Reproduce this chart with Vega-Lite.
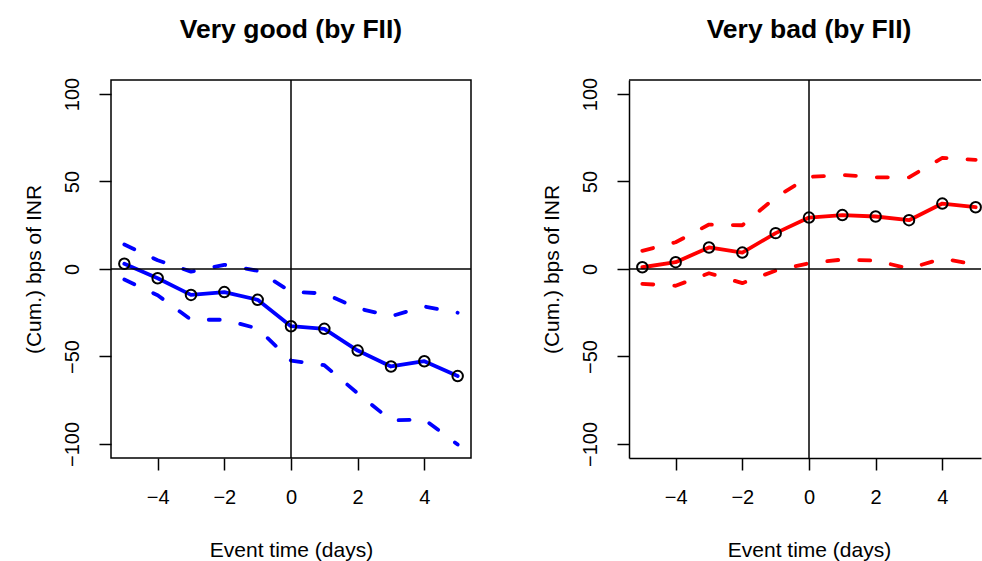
{
  "$schema": "https://vega.github.io/schema/vega-lite/v6.json",
  "background": "white",
  "padding": {"left": 22, "top": 16, "right": 0, "bottom": 0},
  "config": {
    "font": "Liberation Sans",
    "view": {"stroke": "black", "strokeWidth": 1.5},
    "axis": {
      "grid": false, "domain": false, "tickColor": "black", "tickWidth": 1.5, "tickSize": 12,
      "labelColor": "black", "labelFontSize": 20, "labelFont": "Liberation Sans", "labelFlush": false, "labelOverlap": false,
      "titleColor": "black", "titleFontSize": 21, "titleFontWeight": "normal", "titleFont": "Liberation Sans"
    },
    "title": {"font": "Liberation Sans", "fontSize": 26.5, "fontWeight": "bold", "color": "black", "anchor": "middle", "frame": "group", "offset": 34, "baseline": "alphabetic"}
  },
  "datasets": {
    "good": [
      {"t": -5, "s": "est", "v": 3}, {"t": -4, "s": "est", "v": -5.3}, {"t": -3, "s": "est", "v": -14.8}, {"t": -2, "s": "est", "v": -13.2}, {"t": -1, "s": "est", "v": -17.6}, {"t": 0, "s": "est", "v": -32.7}, {"t": 1, "s": "est", "v": -34.2}, {"t": 2, "s": "est", "v": -46.6}, {"t": 3, "s": "est", "v": -55.7}, {"t": 4, "s": "est", "v": -52.7}, {"t": 5, "s": "est", "v": -61.2},
      {"t": -5, "s": "lo", "v": -6}, {"t": -4, "s": "lo", "v": -15}, {"t": -3, "s": "lo", "v": -29}, {"t": -2, "s": "lo", "v": -29}, {"t": -1, "s": "lo", "v": -34}, {"t": 0, "s": "lo", "v": -52.3}, {"t": 1, "s": "lo", "v": -55}, {"t": 2, "s": "lo", "v": -71}, {"t": 3, "s": "lo", "v": -86.5}, {"t": 4, "s": "lo", "v": -86}, {"t": 5, "s": "lo", "v": -100.3},
      {"t": -5, "s": "hi", "v": 14}, {"t": -4, "s": "hi", "v": 5}, {"t": -3, "s": "hi", "v": -1.5}, {"t": -2, "s": "hi", "v": 2.4}, {"t": -1, "s": "hi", "v": -1}, {"t": 0, "s": "hi", "v": -13}, {"t": 1, "s": "hi", "v": -14}, {"t": 2, "s": "hi", "v": -22.4}, {"t": 3, "s": "hi", "v": -27}, {"t": 4, "s": "hi", "v": -21.4}, {"t": 5, "s": "hi", "v": -25}
    ],
    "bad": [
      {"t": -5, "s": "est", "v": 1}, {"t": -4, "s": "est", "v": 3.9}, {"t": -3, "s": "est", "v": 12.3}, {"t": -2, "s": "est", "v": 9.4}, {"t": -1, "s": "est", "v": 20.5}, {"t": 0, "s": "est", "v": 29.4}, {"t": 1, "s": "est", "v": 30.8}, {"t": 2, "s": "est", "v": 30}, {"t": 3, "s": "est", "v": 27.9}, {"t": 4, "s": "est", "v": 37.4}, {"t": 5, "s": "est", "v": 35.3},
      {"t": -5, "s": "lo", "v": -8.5}, {"t": -4, "s": "lo", "v": -9.6}, {"t": -3, "s": "lo", "v": -2.4}, {"t": -2, "s": "lo", "v": -8.1}, {"t": -1, "s": "lo", "v": -0.9}, {"t": 0, "s": "lo", "v": 3.3}, {"t": 1, "s": "lo", "v": 5.4}, {"t": 2, "s": "lo", "v": 4.8}, {"t": 3, "s": "lo", "v": 0.2}, {"t": 4, "s": "lo", "v": 6}, {"t": 5, "s": "lo", "v": 2.5},
      {"t": -5, "s": "hi", "v": 10.4}, {"t": -4, "s": "hi", "v": 15.3}, {"t": -3, "s": "hi", "v": 25.4}, {"t": -2, "s": "hi", "v": 25}, {"t": -1, "s": "hi", "v": 41}, {"t": 0, "s": "hi", "v": 52.6}, {"t": 1, "s": "hi", "v": 53.7}, {"t": 2, "s": "hi", "v": 52.4}, {"t": 3, "s": "hi", "v": 52.4}, {"t": 4, "s": "hi", "v": 63.5}, {"t": 5, "s": "hi", "v": 62.4}
    ]
  },
  "bounds": "flush",
  "spacing": 158,
  "hconcat": [
    {
      "width": 360,
      "height": 378,
      "title": {"text": "Very good (by FII)"},
      "data": {"name": "good"},
      "layer": [
        {
          "transform": [{"filter": "datum.s !== 'est'"}],
          "mark": {"type": "line", "color": "#0000ff", "strokeWidth": 3.8, "strokeDash": [11, 21], "strokeCap": "round", "strokeJoin": "round"},
          "encoding": {
            "x": {"field": "t", "type": "quantitative", "title": "Event time (days)", "scale": {"domain": [-5.4, 5.4], "nice": false, "zero": false},
                  "axis": {"values": [-4, -2, 0, 2, 4], "labelPadding": 33, "labelBaseline": "alphabetic", "titleY": 98, "titleBaseline": "alphabetic"}},
            "y": {"field": "v", "type": "quantitative", "title": "(Cum.) bps of INR", "scale": {"domain": [-108, 108], "nice": false, "zero": false},
                  "axis": {"values": [-100, -50, 0, 50, 100], "labelAngle": -90, "labelAlign": "center", "labelBaseline": "alphabetic", "labelPadding": 21, "titleX": -71, "titleY": 189, "titleAngle": -90, "titleAlign": "center", "titleBaseline": "alphabetic"}},
            "detail": {"field": "s"}
          }
        },
        {
          "transform": [{"filter": "datum.s === 'est'"}],
          "mark": {"type": "line", "color": "#0000ff", "strokeWidth": 3.8, "strokeCap": "round", "strokeJoin": "round"},
          "encoding": {
            "x": {"field": "t", "type": "quantitative", "title": "Event time (days)"},
            "y": {"field": "v", "type": "quantitative", "title": "(Cum.) bps of INR"}
          }
        },
        {
          "data": {"values": [{}]},
          "mark": {"type": "rule", "color": "black", "strokeWidth": 1.5},
          "encoding": {"y": {"datum": 0, "type": "quantitative"}}
        },
        {
          "data": {"values": [{}]},
          "mark": {"type": "rule", "color": "black", "strokeWidth": 1.5},
          "encoding": {"x": {"datum": 0, "type": "quantitative"}}
        },
        {
          "transform": [{"filter": "datum.s === 'est'"}],
          "mark": {"type": "point", "shape": "circle", "filled": false, "color": "black", "size": 110, "strokeWidth": 2, "opacity": 1},
          "encoding": {
            "x": {"field": "t", "type": "quantitative", "title": "Event time (days)"},
            "y": {"field": "v", "type": "quantitative", "title": "(Cum.) bps of INR"}
          }
        }
      ]
    },
    {
      "width": 352,
      "height": 378,
      "view": {"stroke": null},
      "title": {"text": "Very bad (by FII)", "dx": 4},
      "data": {"name": "bad"},
      "layer": [
        {
          "transform": [{"filter": "datum.s !== 'est'"}],
          "mark": {"type": "line", "color": "#ff0000", "strokeWidth": 3.8, "strokeDash": [11, 21], "strokeCap": "round", "strokeJoin": "round"},
          "encoding": {
            "x": {"field": "t", "type": "quantitative", "title": "Event time (days)", "scale": {"domain": [-5.4, 5.16], "nice": false, "zero": false},
                  "axis": {"values": [-4, -2, 0, 2, 4], "labelPadding": 33, "labelBaseline": "alphabetic", "titleX": 180, "titleY": 98, "titleBaseline": "alphabetic", "domain": true, "domainColor": "black", "domainWidth": 1.5}},
            "y": {"field": "v", "type": "quantitative", "title": "(Cum.) bps of INR", "scale": {"domain": [-108, 108], "nice": false, "zero": false},
                  "axis": {"values": [-100, -50, 0, 50, 100], "labelAngle": -90, "labelAlign": "center", "labelBaseline": "alphabetic", "labelPadding": 21, "titleX": -71, "titleY": 189, "titleAngle": -90, "titleAlign": "center", "titleBaseline": "alphabetic", "domain": true, "domainColor": "black", "domainWidth": 1.5}},
            "detail": {"field": "s"}
          }
        },
        {
          "transform": [{"filter": "datum.s === 'est'"}],
          "mark": {"type": "line", "color": "#ff0000", "strokeWidth": 3.8, "strokeCap": "round", "strokeJoin": "round"},
          "encoding": {
            "x": {"field": "t", "type": "quantitative", "title": "Event time (days)"},
            "y": {"field": "v", "type": "quantitative", "title": "(Cum.) bps of INR"}
          }
        },
        {
          "data": {"values": [{}]},
          "mark": {"type": "rule", "color": "black", "strokeWidth": 1.5},
          "encoding": {"y": {"datum": 0, "type": "quantitative"}}
        },
        {
          "data": {"values": [{}]},
          "mark": {"type": "rule", "color": "black", "strokeWidth": 1.5},
          "encoding": {"y": {"datum": 108, "type": "quantitative"}}
        },
        {
          "data": {"values": [{}]},
          "mark": {"type": "rule", "color": "black", "strokeWidth": 1.5},
          "encoding": {"x": {"datum": 0, "type": "quantitative"}}
        },
        {
          "transform": [{"filter": "datum.s === 'est'"}],
          "mark": {"type": "point", "shape": "circle", "filled": false, "color": "black", "size": 110, "strokeWidth": 2, "opacity": 1},
          "encoding": {
            "x": {"field": "t", "type": "quantitative", "title": "Event time (days)"},
            "y": {"field": "v", "type": "quantitative", "title": "(Cum.) bps of INR"}
          }
        }
      ]
    }
  ]
}
